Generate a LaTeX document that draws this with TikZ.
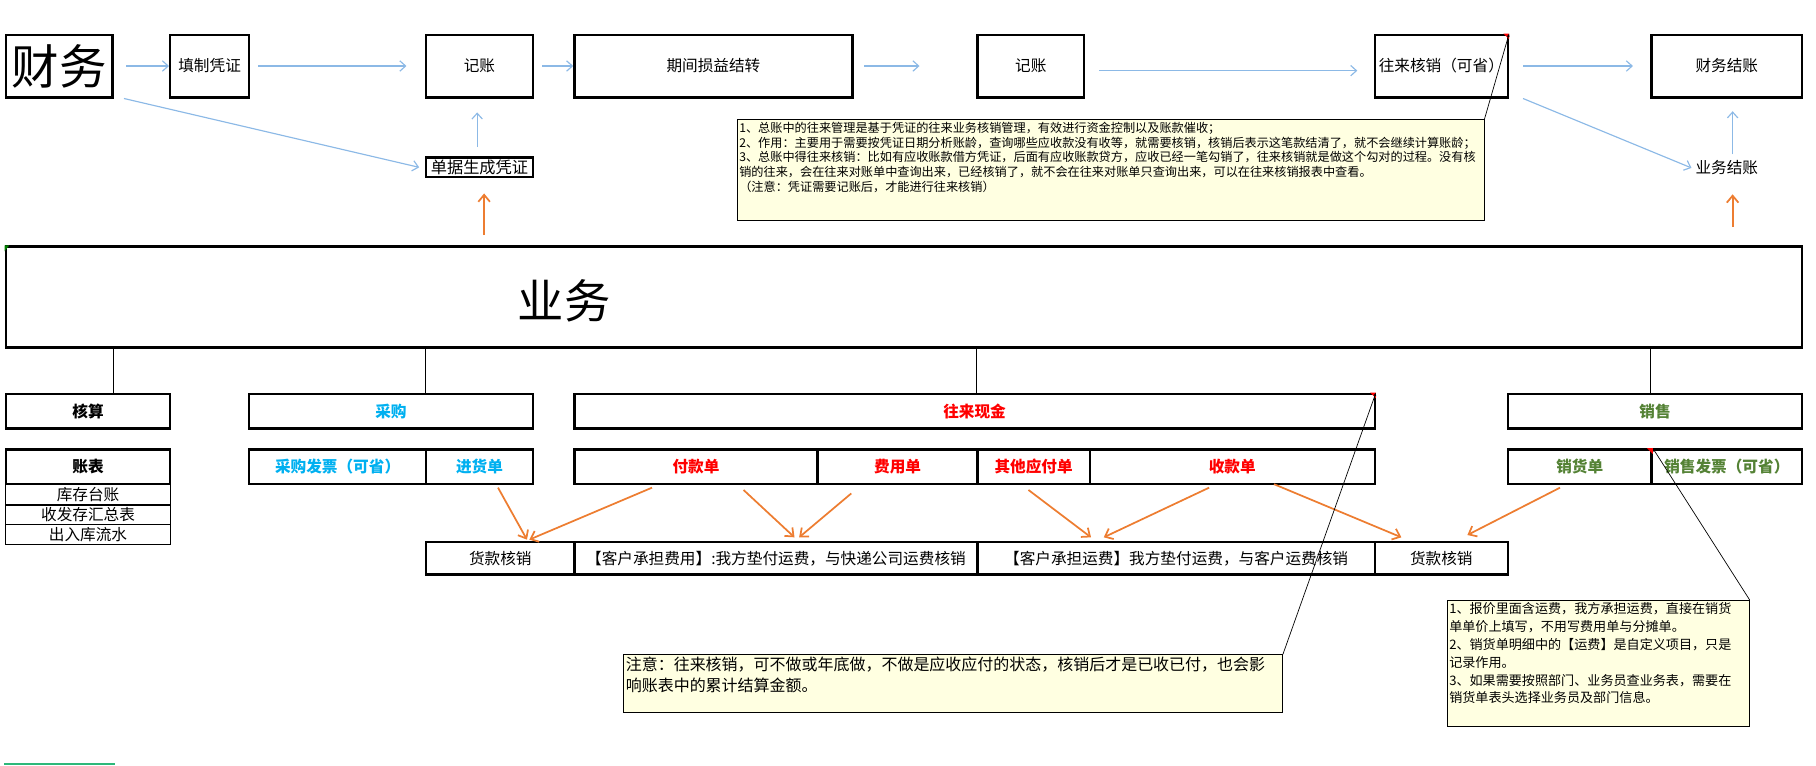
\documentclass[tikz,border=0pt]{standalone}
\usepackage{fontspec}
\setmainfont{Noto Sans CJK SC}
\usetikzlibrary{arrows.meta}

\definecolor{lineblue}{RGB}{140,185,230}
\definecolor{lineorange}{RGB}{237,125,49}
\definecolor{cgblue}{RGB}{0,176,240}
\definecolor{xsgreen}{RGB}{84,130,53}
\definecolor{notefill}{RGB}{255,255,225}
\definecolor{selgreen}{RGB}{45,184,122}

\newcommand\setfs[1]{\fontsize{#1}{#1}\selectfont}

\tikzset{
  cell/.style={draw, line width=2.1pt, inner sep=0pt, font=\setfs{13.5}},
  topcell/.style={cell, minimum height=54pt},
  headcell/.style={cell, minimum height=30pt, font=\bfseries\setfs{13.5}},
  subcell/.style={draw, line width=0.8pt, inner sep=0pt, minimum width=142pt, minimum height=17pt, font=\setfs{13.5}},
  bluearrow/.style={draw=lineblue, line width=1pt, -{Straight Barb[length=5pt,width=9pt]}},
  orangearrow/.style={draw=lineorange, line width=1.5pt, -{Straight Barb[length=6pt,width=10pt]}},
  note/.style={draw, line width=0.7pt, fill=notefill, inner sep=2pt, anchor=north west},
  callout/.style={line width=0.6pt, -{Latex[length=3pt,width=2.5pt]}},
}

\begin{document}
\begin{tikzpicture}[x=1pt,y=-1pt]
  \useasboundingbox (0,0) rectangle (1568,661);

  % finance row
  \begin{scope}[every node/.style={topcell}]
    \node (caiwu)      at (51,57)     [minimum width=92pt, font=\setfs{41}] {财务};
    \node (tianzhi)    at (181,57)    [minimum width=68pt]  {填制凭证};
    \node (jizhang1)   at (414,57)    [minimum width=92pt]  {记账};
    \node (sunyi)      at (616,57)    [minimum width=240pt] {期间损益结转};
    \node (jizhang2)   at (890,57)    [minimum width=92pt]  {记账};
    \node (wanglaihx)  at (1244.5,57) [minimum width=115pt] {往来核销（可省）};
    \node (cwjiezhang) at (1491,57)   [minimum width=130pt] {财务结账};
  \end{scope}

  \node[cell, minimum width=92pt, minimum height=17pt, font=\setfs{14}] (danju) at (414,144.5) {单据生成凭证};
  \node[font=\setfs{13.5}] (ywjiezhang) at (1491,145) {业务结账};

  % business block
  \node[cell, minimum width=1551pt, minimum height=87pt] (yewu) at (780.5,256.5) {};
  \node[font=\setfs{40}] (yewulabel) at (487,260) {业务};
  \coordinate (ywup1) at (418,213);
  \coordinate (ywup2) at (1496,213);

  \begin{scope}[every node/.style={headcell}]
    \node (hesuan)    at (76,355)     [minimum width=142pt] {核算};
    \node (caigou)    at (337.5,355)  [minimum width=245pt, text=cgblue] {采购};
    \node (wanglaixj) at (841.5,355)  [minimum width=691pt, text=red] {往来现金};
    \node (xiaoshou)  at (1429,355)   [minimum width=254pt, text=xsgreen] {销售};

    \node (zhangbiao) at (76,403)     [minimum width=142pt] {账表};
    \node (cgfapiao)  at (291.5,403)  [minimum width=153pt, text=cgblue] {采购发票（可省）};
    \node (jinhuo)    at (414,403)    [minimum width=92pt, text=cgblue] {进货单};
    \node (fukuan)    at (601,403)    [minimum width=210pt, text=red] {付款单};
    \node (feiyong)   at (775,403)    [minimum width=138pt, text=red] {费用单};
    \node (qitayf)    at (892.5,403)  [minimum width=97pt, text=red] {其他应付单};
    \node (shoukuan)  at (1064,403)   [minimum width=246pt, text=red] {收款单};
    \node (xiaohuo)   at (1364,403)   [minimum width=124pt, text=xsgreen] {销货单};
    \node (xsfapiao)  at (1491,403)   [minimum width=130pt, text=xsgreen] {销售发票（可省）};
  \end{scope}

  \begin{scope}[every node/.style={subcell}]
    \node (kucun)  at (76,427)   {库存台账};
    \node (shoufa) at (76,444.5) {收发存汇总表};
    \node (churu)  at (76,461.5) {出入库流水};
  \end{scope}

  \begin{scope}[every node/.style={cell, minimum height=28pt}]
    \node (hkhx1)  at (432,482)    [minimum width=128pt] {货款核销};
    \node (kehufy) at (670,482)    [minimum width=348pt] {【客户承担费用】:我方垫付运费，与快递公司运费核销};
    \node (kehuyf) at (1015.5,482) [minimum width=343pt] {【客户承担运费】我方垫付运费，与客户运费核销};
    \node (hkhx2)  at (1244.5,482) [minimum width=115pt] {货款核销};
  \end{scope}

  % notes
  \node[note] (note1) at (636,103) {\parbox[t][83pt][t]{641pt}{\fontsize{10.5}{12.8}\selectfont
    1、总账中的往来管理是基于凭证的往来业务核销管理，有效进行资金控制以及账款催收；\\
    2、作用：主要用于需要按凭证日期分析账龄，查询哪些应收款没有收等，就需要核销，核销后表示这笔款结清了，就不会继续计算账龄；\\
    3、总账中得往来核销：比如有应收账款借方凭证，后面有应收账款贷方，应收已经一笔勾销了，往来核销就是做这个勾对的过程。没有核\\
    销的往来，会在往来对账单中查询出来，已经核销了，就不会在往来对账单只查询出来，可以在往来核销报表中查看。\\
    （注意：凭证需要记账后，才能进行往来核销）}};
  \node[note] (note2) at (538,565) {\parbox[t][46pt][t]{565pt}{\fontsize{13.8}{18}\selectfont
    注意：往来核销，可不做或年底做，不做是应收应付的状态，核销后才是已收已付，也会影\\
    响账表中的累计结算金额。}};
  \node[note] (note3) at (1249,518) {\parbox[t][105pt][t]{257pt}{\fontsize{11.3}{15.4}\selectfont
    1、报价里面含运费，我方承担运费，直接在销货\\
    单单价上填写，不用写费用单与分摊单。\\
    2、销货单明细中的【运费】是自定义项目，只是\\
    记录作用。\\
    3、如果需要按照部门、业务员查业务表，需要在\\
    销货单表头选择业务员及部门信息。}};

  % finance flow
  \draw[bluearrow, shorten <=11pt] (caiwu) -- (tianzhi);
  \draw[bluearrow, shorten <=7pt, shorten >=16pt] (tianzhi) -- (jizhang1);
  \draw[bluearrow, shorten <=7pt] (jizhang1) -- (sunyi);
  \draw[bluearrow, shorten <=9pt, shorten >=49pt] (sunyi) -- (jizhang2);
  \draw[bluearrow, shorten <=12pt, shorten >=14pt] ([yshift=-4pt]jizhang2.east) -- ([yshift=-4pt]wanglaihx.west);
  \draw[bluearrow, shorten <=12pt, shorten >=15pt] (wanglaihx) -- (cwjiezhang);
  \draw[bluearrow] ([xshift=12pt]wanglaihx.south east) -- (ywjiezhang.west);
  \draw[bluearrow, shorten <=2pt, shorten >=11pt] ([xshift=5pt]ywjiezhang.north) -- ([xshift=5pt]cwjiezhang.south);
  \draw[bluearrow] ([xshift=9pt]caiwu.south east) -- ([xshift=-5pt]danju.west);
  \draw[bluearrow, shorten <=8pt, shorten >=12pt] ([xshift=-2pt]danju.north) -- ([xshift=-2pt]jizhang1.south);

  % business to finance
  \draw[orangearrow, shorten <=10pt, shorten >=13pt] (ywup1) -- (ywup1 |- danju.south);
  \draw[orangearrow, shorten <=17pt, shorten >=13pt] (ywup2) -- (ywup2 |- ywjiezhang.south);

  % tree
  \draw[line width=0.8pt] (yewu.south -| caiwu.east) -- (hesuan.north -| caiwu.east);
  \draw[line width=0.8pt] (yewu.south -| jizhang1.west) -- (caigou.north -| jizhang1.west);
  \draw[line width=0.8pt] (yewu.south -| jizhang2.west) -- (wanglaixj.north -| jizhang2.west);
  \draw[line width=0.8pt] (yewu.south -| cwjiezhang.west) -- (xiaoshou.north -| cwjiezhang.west);

  % documents to settlement
  \draw[orangearrow] ([xshift=16pt, yshift=-2pt]jinhuo.south) -- ([xshift=23pt, yshift=1pt]hkhx1.north);
  \draw[orangearrow] ([xshift=-38pt, yshift=-2pt]fukuan.south) -- ([xshift=25pt, yshift=1pt]hkhx1.north);
  \draw[orangearrow] ([xshift=41pt, yshift=-4pt]fukuan.south) -- ([xshift=16pt, yshift=3pt]kehufy.north);
  \draw[orangearrow] ([xshift=-40pt, yshift=-7pt]feiyong.south) -- ([xshift=20pt, yshift=3pt]kehufy.north);
  \draw[orangearrow] ([xshift=-4.5pt, yshift=-4pt]qitayf.south) -- ([xshift=-73.5pt, yshift=3pt]kehuyf.north);
  \draw[orangearrow] ([xshift=-20pt, yshift=-2pt]shoukuan.south) -- ([xshift=-62.5pt, yshift=3pt]kehuyf.north);
  \draw[orangearrow] ([xshift=36pt, yshift=1pt]shoukuan.south) -- ([xshift=-34.5pt, yshift=3pt]hkhx2.north);
  \draw[orangearrow] ([xshift=-17pt, yshift=-2pt]xiaohuo.south) -- ([xshift=22.5pt, yshift=5pt]hkhx2.north);

  % comment markers and callouts
  \fill[red] (wanglaihx.north east) -- ++(-5,0) -- ++(5,5) -- cycle;
  \fill[red] (wanglaixj.north east) -- ++(-5,0) -- ++(5,5) -- cycle;
  \fill[red] (xiaohuo.north east) -- ++(-5,0) -- ++(5,5) -- cycle;
  \fill[green!50!black] (yewu.north west) -- ++(4,0) -- ++(-4,5) -- cycle;
  \draw[callout] (note1.north east) -- (wanglaihx.north east);
  \draw[callout] (note2.north east) -- (wanglaixj.north east);
  \draw[callout] (note3.north east) -- (xiaohuo.north east);

  \draw[selgreen, line width=1.7pt] (3.5,659.5) -- (99,659.5);
\end{tikzpicture}
\end{document}
